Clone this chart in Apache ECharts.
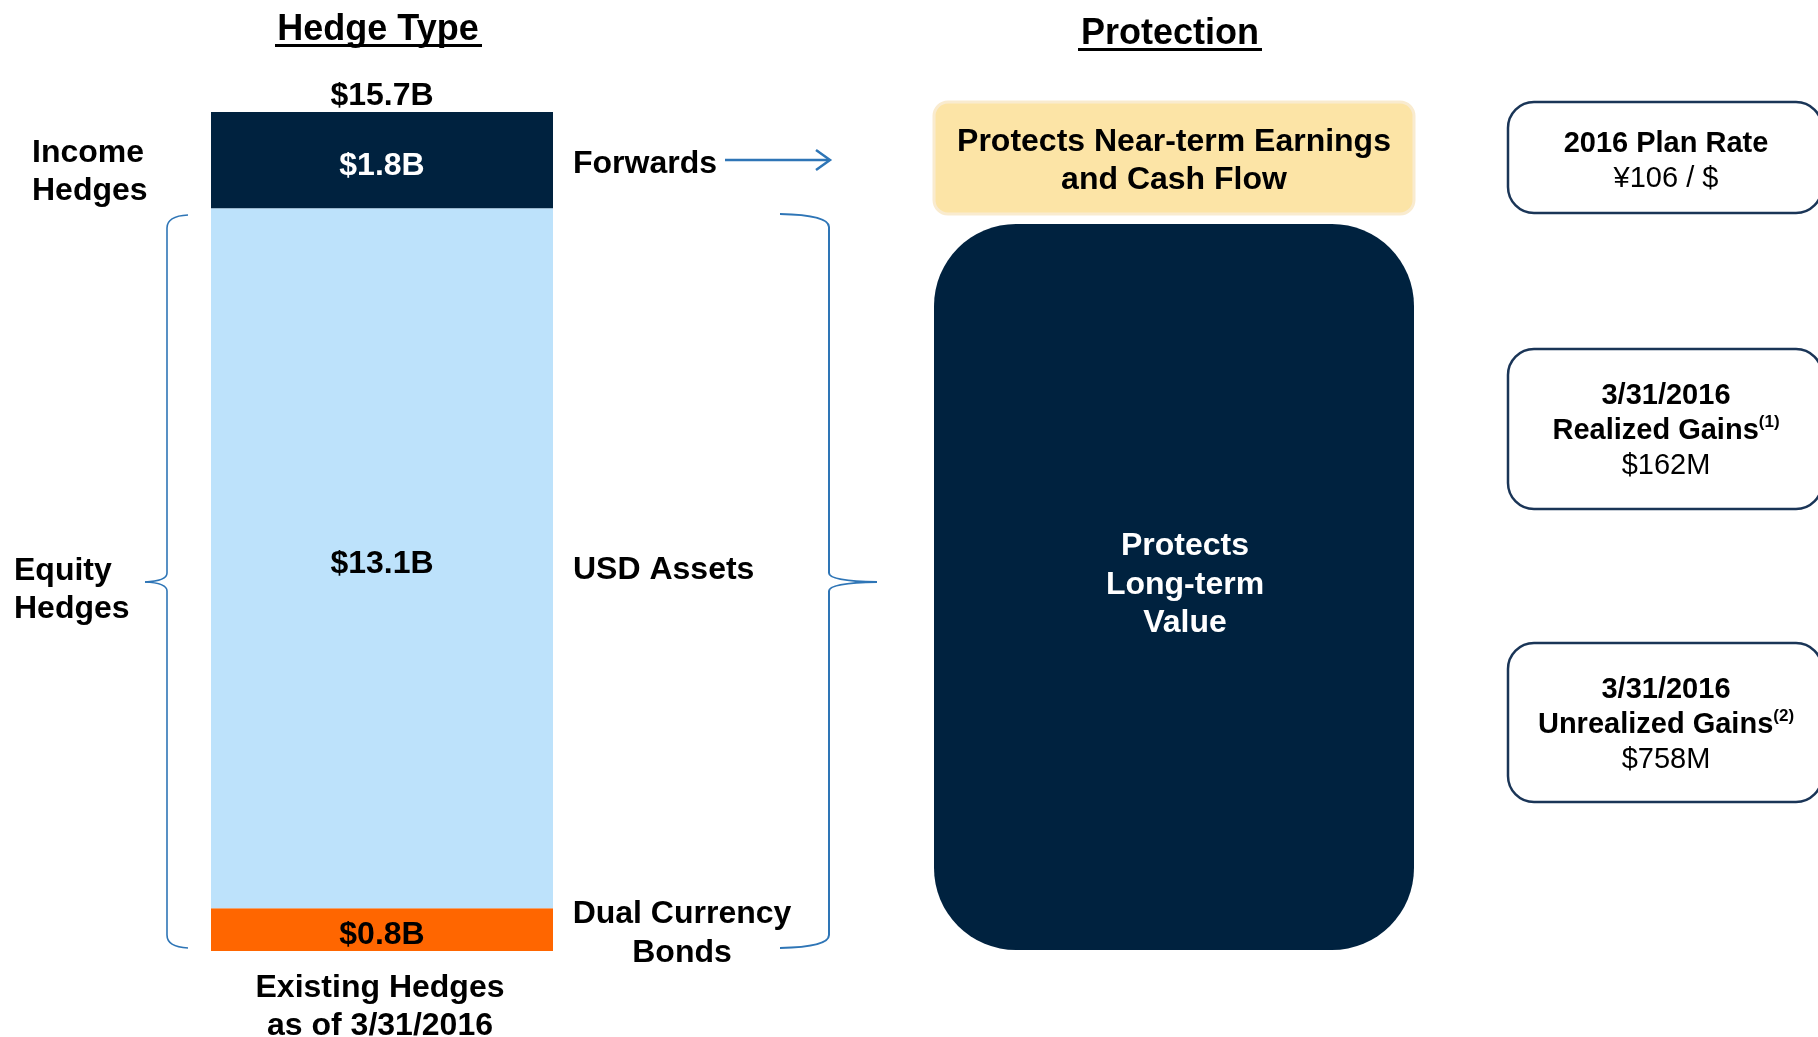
<!DOCTYPE html>
<html>
<head>
<meta charset="utf-8">
<script src="https://cdn.jsdelivr.net/npm/echarts@6/dist/echarts.min.js"></script>
<style>
  html, body { margin: 0; padding: 0; background: #fff; }
  #main { width: 1818px; height: 1037px; }
</style>
</head>
<body>
<div id="main"></div>
<script>
// stacked from the bottom up
var segments = ['Dual Currency Bonds', 'USD Assets', 'Forwards']
var values = [0.8, 13.1, 1.8]
var segColors = ['#ff6600', '#bde2fb', '#00223f']
var labelColors = ['#000', '#000', '#fff']
var categories = ['Existing Hedges']

var total = values.reduce(function (a, b) { return a + b }, 0)
var FONT = '"Liberation Sans", Arial, sans-serif'
var NAVY = '#00223f'
var BLUE = '#2e75b6'

var chart = echarts.init(document.getElementById('main'))

var series = segments.map(function (name, i) {
  return {
    name: name,
    type: 'bar',
    stack: 'hedge',
    barWidth: '100%',
    data: [values[i]],
    itemStyle: { color: segColors[i] },
    label: {
      show: true,
      position: 'inside',
      offset: [0, 6],
      color: labelColors[i],
      fontFamily: FONT,
      fontWeight: 'bold',
      fontSize: 32,
      formatter: function (p) { return '$' + p.value.toFixed(1) + 'B' }
    }
  }
})
// zero-height bar on top just to carry the total
series.push({
  name: 'total',
  type: 'bar',
  stack: 'hedge',
  barWidth: '100%',
  data: [0],
  itemStyle: { color: 'transparent' },
  label: {
    show: true,
    position: 'top',
    distance: 0,
    color: '#000',
    fontFamily: FONT,
    fontWeight: 'bold',
    fontSize: 32,
    formatter: function () { return '$' + total.toFixed(1) + 'B' }
  }
})

function txt (x, y, text, opts) {
  opts = opts || {}
  return {
    type: 'text',
    x: x,
    y: y,
    style: {
      text: text,
      fill: opts.fill || '#000',
      font: (opts.weight || 'bold') + ' ' + (opts.size || 32) + 'px ' + FONT,
      align: opts.align || 'left',
      verticalAlign: 'middle',
      lineHeight: opts.lh || 38,
      rich: opts.rich
    },
    z: 10
  }
}

// curly brace: x0 = open ends, xs = spine, xt = tip
function brace (x0, xs, xt, y0, ym, y1, w) {
  var s = { stroke: BLUE, lineWidth: w, fill: 'none' }
  return [
    { type: 'bezierCurve', shape: { x1: x0, y1: y0, cpx1: xs, cpy1: y0 + 1, x2: xs, y2: y0 + 13 }, style: s },
    { type: 'line', shape: { x1: xs, y1: y0 + 13, x2: xs, y2: ym - 9 }, style: s },
    { type: 'bezierCurve', shape: { x1: xs, y1: ym - 9, cpx1: xs, cpy1: ym - 1, x2: xt, y2: ym }, style: s },
    { type: 'bezierCurve', shape: { x1: xt, y1: ym, cpx1: xs, cpy1: ym + 1, x2: xs, y2: ym + 9 }, style: s },
    { type: 'line', shape: { x1: xs, y1: ym + 9, x2: xs, y2: y1 - 13 }, style: s },
    { type: 'bezierCurve', shape: { x1: xs, y1: y1 - 13, cpx1: xs, cpy1: y1 - 1, x2: x0, y2: y1 }, style: s }
  ]
}

function sideBox (y, h) {
  return {
    type: 'rect',
    shape: { x: 1508, y: y, width: 314, height: h, r: 26 },
    style: { fill: '#fff', stroke: '#1a3557', lineWidth: 2.5 }
  }
}

var supRich = {
  b: { fontFamily: FONT, fontWeight: 'bold', fontSize: 29, lineHeight: 35, fill: '#000' },
  s: { fontFamily: FONT, fontWeight: 'bold', fontSize: 17, lineHeight: 35, verticalAlign: 'top', padding: [0, 0, 0, 0] },
  n: { fontFamily: FONT, fontWeight: 'normal', fontSize: 29, lineHeight: 35 }
}

var graphics = [
  // headings
  txt(378, 30, 'Hedge Type', { align: 'center', size: 36 }),
  { type: 'rect', shape: { x: 275, y: 44, width: 207, height: 3 }, style: { fill: '#000' } },
  txt(1170, 34, 'Protection', { align: 'center', size: 36 }),
  { type: 'rect', shape: { x: 1078, y: 48, width: 184, height: 3 }, style: { fill: '#000' } },

  // left side labels
  txt(32, 172, 'Income\nHedges'),
  txt(14, 590, 'Equity\nHedges'),
  txt(380, 1007, 'Existing Hedges\nas of 3/31/2016', { align: 'center' }),

  // right side labels
  txt(573, 164, 'Forwards'),
  txt(573, 570, 'USD Assets'),
  txt(682, 934, 'Dual Currency\nBonds', { align: 'center', lh: 39 }),

  // arrow
  { type: 'line', shape: { x1: 725, y1: 160, x2: 829, y2: 160 }, style: { stroke: BLUE, lineWidth: 2.5 } },
  { type: 'polyline', shape: { points: [[816, 150], [830, 160], [816, 170]] }, style: { stroke: BLUE, lineWidth: 2.5, fill: 'none' } },

  // protection boxes
  {
    type: 'rect',
    shape: { x: 934, y: 102, width: 480, height: 112, r: 14 },
    style: { fill: '#fce4a6', stroke: '#f9ebcf', lineWidth: 3 }
  },
  txt(1174, 161, 'Protects Near-term Earnings\nand Cash Flow', { align: 'center' }),
  {
    type: 'rect',
    shape: { x: 934, y: 224, width: 480, height: 726, r: 82 },
    style: { fill: NAVY }
  },
  txt(1185, 585, 'Protects\nLong-term\nValue', { align: 'center', fill: '#fff', lh: 38.5 }),

  // right boxes
  sideBox(102, 111),
  txt(1666, 161, '{b|2016 Plan Rate}\n{n|¥106 / $}', { align: 'center', rich: supRich }),
  sideBox(349, 160),
  txt(1666, 431, '{b|3/31/2016}\n{b|Realized Gains}{s|(1)}\n{n|$162M}', { align: 'center', rich: supRich }),
  sideBox(643, 159),
  txt(1666, 725, '{b|3/31/2016}\n{b|Unrealized Gains}{s|(2)}\n{n|$758M}', { align: 'center', rich: supRich })
].concat(
  brace(188, 167, 145, 215, 582, 948, 1.6),
  brace(780, 829, 877, 214, 582, 948, 2)
)

chart.setOption({
  animation: false,
  grid: { left: 211, top: 112, width: 342, height: 839 },
  xAxis: { type: 'category', data: categories, show: false },
  yAxis: { type: 'value', min: 0, max: total, show: false },
  series: series,
  graphic: graphics
})
</script>
</body>
</html>
